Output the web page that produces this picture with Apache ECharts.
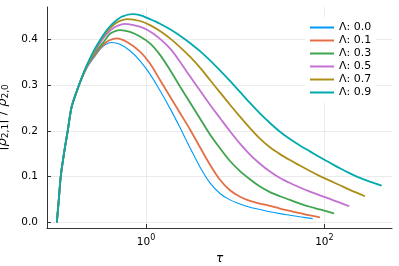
<!DOCTYPE html>
<html>
<head>
<meta charset="utf-8">
<script src="https://cdn.jsdelivr.net/npm/echarts@6/dist/echarts.min.js"></script>
<style>html,body{margin:0;padding:0;background:#fff}#c{width:399px;height:266px}</style>
</head>
<body>
<div id="c"></div>
<script>
// ---- data (τ, value) ----
const legendNames = ['Λ: 0.0', 'Λ: 0.1', 'Λ: 0.3', 'Λ: 0.5', 'Λ: 0.7', 'Λ: 0.9'];
const colors = ['#009AFA', '#E36F47', '#3EA44E', '#C371D2', '#AC8E18', '#00AAAE'];
const xTicks = [1, 100];
const yTicks = [0, 0.1, 0.2, 0.3, 0.4];

// shared steep rise
const riseTau = [0.1, 0.1053, 0.1106, 0.1204, 0.1325, 0.1469, 0.1774];
const riseVal = [0, 0.05, 0.1, 0.151, 0.2, 0.253, 0.3];

const tauL0 = [0.2018, 0.2238, 0.2681, 0.3049, 0.3470, 0.4125, 0.5110, 0.6615, 0.8564, 1.109, 1.436, 1.858, 2.405, 3.113, 4.030, 5.216, 6.751, 8.739, 11.31, 14.64, 18.95, 24.53, 31.75, 41.10, 53.20, 73.92];
const valL0 = [0.325, 0.342, 0.363, 0.378, 0.388, 0.393, 0.389, 0.375, 0.353, 0.324, 0.288, 0.249, 0.207, 0.163, 0.121, 0.086, 0.063, 0.049, 0.040, 0.033, 0.028, 0.023, 0.019, 0.0155, 0.012, 0.008];

const tauL1 = [0.2018, 0.2238, 0.2681, 0.3049, 0.3470, 0.3949, 0.4693, 0.6124, 0.8564, 1.109, 1.436, 1.858, 2.405, 3.113, 4.030, 5.216, 6.751, 8.739, 11.31, 14.64, 18.95, 24.53, 31.75, 41.10, 53.20, 68.86, 89.13];
const valL1 = [0.326, 0.344, 0.366, 0.3805, 0.3915, 0.3985, 0.402, 0.394, 0.373, 0.347, 0.311, 0.275, 0.239, 0.203, 0.164, 0.126, 0.093, 0.070, 0.056, 0.047, 0.041, 0.036, 0.030, 0.025, 0.020, 0.015, 0.011];

const tauL3 = [0.2018, 0.2238, 0.2681, 0.3049, 0.3470, 0.3949, 0.5110, 0.6615, 0.8564, 1.109, 1.436, 1.858, 2.405, 3.113, 4.030, 5.216, 6.751, 8.739, 11.31, 14.64, 18.95, 24.53, 31.75, 41.10, 53.20, 68.86, 89.13, 128.1];
const valL3 = [0.327, 0.346, 0.370, 0.384, 0.398, 0.412, 0.420, 0.416, 0.406, 0.391, 0.366, 0.333, 0.297, 0.262, 0.227, 0.192, 0.162, 0.134, 0.112, 0.094, 0.078, 0.066, 0.057, 0.049, 0.041, 0.034, 0.028, 0.0197];

const tauL5 = [0.2018, 0.2238, 0.2681, 0.3049, 0.3470, 0.3949, 0.4493, 0.5814, 0.6615, 0.8564, 1.109, 1.436, 1.858, 2.405, 3.113, 4.030, 5.216, 6.751, 8.739, 11.31, 14.64, 18.95, 24.53, 31.75, 41.10, 53.20, 68.86, 89.13, 115.4, 149.3, 190.2];
const valL5 = [0.328, 0.347, 0.374, 0.392, 0.4075, 0.4187, 0.427, 0.4335, 0.4325, 0.4275, 0.417, 0.401, 0.380, 0.351, 0.319, 0.288, 0.257, 0.228, 0.199, 0.172, 0.148, 0.128, 0.111, 0.097, 0.086, 0.076, 0.067, 0.059, 0.051, 0.043, 0.035];

const tauL7 = [0.2018, 0.2238, 0.2681, 0.3049, 0.3470, 0.3949, 0.4493, 0.5110, 0.6203, 0.8564, 1.109, 1.436, 1.858, 2.405, 3.113, 4.030, 5.216, 6.751, 8.739, 11.31, 14.64, 18.95, 24.53, 31.75, 41.10, 53.20, 68.86, 89.13, 115.4, 149.3, 193.3, 285.2];
const valL7 = [0.328, 0.348, 0.377, 0.396, 0.412, 0.4246, 0.434, 0.4404, 0.444, 0.440, 0.431, 0.418, 0.402, 0.383, 0.362, 0.338, 0.311, 0.284, 0.257, 0.231, 0.206, 0.183, 0.164, 0.149, 0.136, 0.124, 0.112, 0.101, 0.091, 0.081, 0.071, 0.057];

const tauL9 = [0.2018, 0.2238, 0.2681, 0.3049, 0.3470, 0.3949, 0.4493, 0.5382, 0.6966, 0.8564, 1.109, 1.436, 1.858, 2.405, 3.113, 4.030, 5.216, 6.751, 8.739, 11.31, 14.64, 18.95, 24.53, 31.75, 41.10, 53.20, 68.86, 89.13, 115.4, 149.3, 193.3, 250.2, 323.9, 439.0];
const valL9 = [0.329, 0.349, 0.380, 0.398, 0.415, 0.4285, 0.439, 0.4495, 0.455, 0.453, 0.444, 0.434, 0.422, 0.408, 0.392, 0.374, 0.354, 0.332, 0.309, 0.285, 0.261, 0.238, 0.217, 0.198, 0.182, 0.168, 0.155, 0.142, 0.130, 0.118, 0.107, 0.097, 0.089, 0.080];

const seriesTau = [tauL0, tauL1, tauL3, tauL5, tauL7, tauL9];
const seriesVal = [valL0, valL1, valL3, valL5, valL7, valL9];
const lineWidths = [1.1, 1.8, 1.8, 1.8, 1.8, 1.8];

function pairs(t, v) {
  const out = [];
  for (let i = 0; i < riseTau.length; i++) out.push([riseTau[i], riseVal[i]]);
  for (let i = 0; i < t.length; i++) out.push([t[i], v[i]]);
  return out;
}

const font = 'DejaVu Sans';
const chart = echarts.init(document.getElementById('c'), null, {renderer: 'canvas'});
chart.setOption({
  animation: false,
  backgroundColor: '#fff',
  grid: {left: 47, right: 7, top: 7, bottom: 38, containLabel: false, outerBoundsMode: 'none'},
  legend: {
    orient: 'vertical', left: 305, top: 17, padding: [4, 5, 4, 5],
    backgroundColor: '#fff', itemWidth: 24, itemHeight: 2, itemGap: 0,
    icon: 'rect',
    textStyle: {fontFamily: font, fontSize: 11, lineHeight: 13, color: '#000'},
    data: legendNames
  },
  xAxis: {
    type: 'log', logBase: 10, min: 0.0776, max: 573,
    name: 'τ', nameLocation: 'middle', nameGap: 22,
    nameTextStyle: {fontFamily: font, fontSize: 12, fontStyle: 'italic', color: '#000'},
    axisLine: {onZero: false, lineStyle: {color: '#333', width: 1}},
    axisTick: {inside: true, length: 4, customValues: xTicks, lineStyle: {color: '#333'}},
    axisLabel: {
      customValues: xTicks, margin: 6, color: '#000',
      formatter: function (v) {
        const e = Math.round(Math.log10(v));
        return '{n|10}{s|' + e + '}';
      },
      rich: {
        n: {fontFamily: font, fontSize: 10.5, color: '#000'},
        s: {fontFamily: font, fontSize: 8, color: '#000', padding: [0, 0, 8, 0]}
      }
    },
    splitLine: {show: true, lineStyle: {color: '#ebebeb', width: 1}}
  },
  yAxis: {
    type: 'value', min: -0.01246, max: 0.4706,
    name: '{t||}{r|ρ}{u|2,1}{t|| / }{r|ρ}{u|2,0}',
    nameLocation: 'middle', nameGap: 24, nameRotate: 90,
    nameTextStyle: {
      rich: {
        t: {fontFamily: font, fontSize: 13, color: '#000'},
        r: {fontFamily: font, fontSize: 13, fontStyle: 'italic', color: '#000'},
        u: {fontFamily: font, fontSize: 9, color: '#000', padding: [6, 0, 0, 0]}
      }
    },
    axisLine: {show: true, onZero: false, lineStyle: {color: '#333', width: 1}},
    axisTick: {show: true, inside: true, length: 4, customValues: yTicks, lineStyle: {color: '#333'}},
    axisLabel: {
      customValues: yTicks, margin: 9, color: '#000', fontFamily: font, fontSize: 10.5,
      formatter: function (v) { return v.toFixed(1); }
    },
    splitLine: {show: true, lineStyle: {color: '#ebebeb', width: 1}}
  },
  series: seriesTau.map(function (t, i) {
    return {
      name: legendNames[i], type: 'line', data: pairs(t, seriesVal[i]),
      showSymbol: false, symbol: 'none', smooth: 0.3,
      color: colors[i],
      lineStyle: {color: colors[i], width: lineWidths[i]},
      itemStyle: {color: colors[i]}
    };
  })
});
</script>
</body>
</html>
